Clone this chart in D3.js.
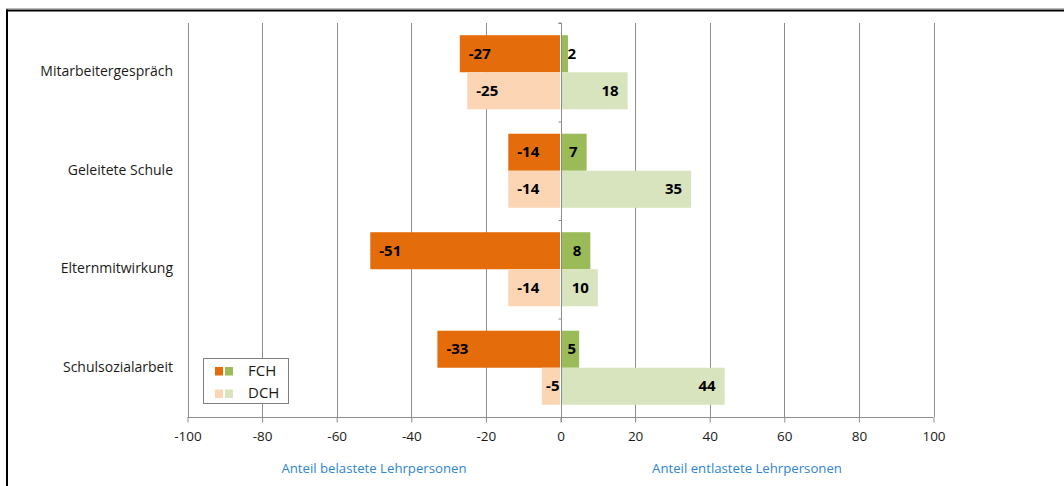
<!DOCTYPE html>
<html><head><meta charset="utf-8">
<script src="https://cdn.jsdelivr.net/npm/d3@7"></script>
<style>html,body{margin:0;padding:0;background:#fff;}svg{display:block;}</style>
</head><body>
<svg id="c" width="1064" height="486"></svg>
<script>
const categories = ["Mitarbeitergespräch", "Geleitete Schule", "Elternmitwirkung", "Schulsozialarbeit"];
const seriesNames = ["FCH", "DCH"];
const belastet = { FCH: [-27, -14, -51, -33], DCH: [-25, -14, -14, -5] };
const entlastet = { FCH: [2, 7, 8, 5], DCH: [18, 35, 10, 44] };
const xTicks = [-100, -80, -60, -40, -20, 0, 20, 40, 60, 80, 100];
const axisTitles = ["Anteil belastete Lehrpersonen", "Anteil entlastete Lehrpersonen"];
const colors = {
  FCH: { neg: "#E46C0A", pos: "#9BBB59" },
  DCH: { neg: "#FCD5B5", pos: "#D7E4BD" }
};

const svg = d3.select("#c");
const FONT = "'Open Sans', sans-serif";

// frame
svg.append("line").attr("x1", 6).attr("x2", 1064).attr("y1", 8.5).attr("y2", 8.5).attr("stroke", "#bbb").attr("stroke-width", 1);
svg.append("line").attr("x1", 6).attr("x2", 1064).attr("y1", 10.5).attr("y2", 10.5).attr("stroke", "#000").attr("stroke-width", 2);
svg.append("line").attr("x1", 7).attr("x2", 7).attr("y1", 9.5).attr("y2", 486).attr("stroke", "#000").attr("stroke-width", 2);

const plotTop = 23, plotBottom = 417;
const x = d3.scaleLinear().domain([-100, 100]).range([187.5, 933.5]);
const y = d3.scaleBand().domain(categories).range([plotTop, plotBottom]).paddingInner(0).paddingOuter(0);
const yi = d3.scaleBand().domain(seriesNames).range([0, y.bandwidth()]).paddingInner(0).paddingOuter(0.33);

// gridlines
svg.append("g").selectAll("line").data(xTicks.filter(t => t !== 0)).join("line")
  .attr("x1", d => Math.round(x(d)) + 0.5).attr("x2", d => Math.round(x(d)) + 0.5)
  .attr("y1", plotTop).attr("y2", plotBottom)
  .attr("stroke", "#8c8c8c").attr("stroke-width", 1);

// bars
const rows = [];
seriesNames.forEach(s => {
  categories.forEach((c, i) => {
    rows.push({ s, c, v: belastet[s][i], col: colors[s].neg });
    rows.push({ s, c, v: entlastet[s][i], col: colors[s].pos });
  });
});
const x0 = x(0);
svg.append("g").selectAll("rect").data(rows).join("rect")
  .attr("x", d => d.v < 0 ? x(d.v) : x0 + 1)
  .attr("width", d => d.v < 0 ? x0 - 0.5 - x(d.v) : x(d.v) - x0 - 1)
  .attr("y", d => y(d.c) + yi(d.s))
  .attr("height", yi.bandwidth())
  .attr("fill", d => d.col);

// x axis line + ticks
const xAxis = d3.axisBottom(x).tickValues(xTicks).tickSize(5).tickFormat(d => String(d));
const gx = svg.append("g").attr("transform", `translate(0,${plotBottom + 0.5})`).call(xAxis);
gx.select(".domain").attr("stroke", "#8c8c8c").attr("d", `M${x(-100)},0H${x(100)}`);
gx.selectAll(".tick line").attr("stroke", "#8c8c8c");
gx.selectAll(".tick text").attr("font-family", FONT).attr("font-size", 13.5).attr("fill", "#1a1a1a").attr("y", 14);

// y axis at zero
const yAxis = d3.axisLeft(d3.scaleLinear().domain([0, 4]).range([plotTop, plotBottom])).ticks(4).tickSize(3).tickFormat("");
const gy = svg.append("g").attr("transform", `translate(${Math.round(x0) + 0.5},0)`).call(yAxis);
gy.select(".domain").attr("stroke", "#8c8c8c").attr("d", `M-3,${plotTop}H0V${plotBottom + 5}`);
gy.selectAll(".tick line").attr("stroke", "#8c8c8c");

// category labels
svg.append("g").selectAll("text").data(categories).join("text")
  .attr("x", 173).attr("y", d => y(d) + y.bandwidth() / 2)
  .attr("text-anchor", "end").attr("dominant-baseline", "middle")
  .attr("font-family", FONT).attr("font-size", 14).attr("fill", "#1a1a1a")
  .text(d => d);

// data labels
const pad = 9;
const lab = svg.append("g").selectAll("text").data(rows).join("text")
  .attr("y", d => y(d.c) + yi(d.s) + yi.bandwidth() / 2 + 1)
  .attr("dominant-baseline", "middle")
  .attr("font-family", FONT).attr("font-size", 15).attr("font-weight", "bold").attr("fill", "#000")
  .text(d => d.v);
lab.each(function(d) {
  const w = this.getComputedTextLength();
  const t = d3.select(this);
  if (d.v < 0) {
    const sx = Math.min(x(d.v) + pad, x0 - w - 1);
    t.attr("x", sx).attr("text-anchor", "start");
  } else {
    const ex = Math.max(x(d.v) - pad, x0 + 7 + w);
    t.attr("x", ex).attr("text-anchor", "end");
  }
});

// axis titles
svg.append("g").selectAll("text").data(axisTitles).join("text")
  .attr("x", (d, i) => i === 0 ? 374 : 747).attr("y", 469)
  .attr("text-anchor", "middle").attr("dominant-baseline", "middle")
  .attr("font-family", FONT).attr("font-size", 13.2).attr("fill", "#2E86D1")
  .text(d => d);

// legend
const lg = svg.append("g");
lg.append("rect").attr("x", 203.5).attr("y", 358.5).attr("width", 85).attr("height", 45)
  .attr("fill", "#fff").attr("stroke", "#7f7f7f").attr("stroke-width", 1);
seriesNames.forEach((s, i) => {
  const yy = 367 + i * 22.5;
  lg.append("rect").attr("x", 215).attr("y", yy).attr("width", 8).attr("height", 8.5).attr("fill", colors[s].neg);
  lg.append("rect").attr("x", 225).attr("y", yy).attr("width", 8).attr("height", 8.5).attr("fill", colors[s].pos);
  lg.append("text").attr("x", 248).attr("y", yy + 4.5).attr("dominant-baseline", "middle")
    .attr("font-family", FONT).attr("font-size", 15).attr("fill", "#1a1a1a").text(s);
});
</script>
</body></html>
